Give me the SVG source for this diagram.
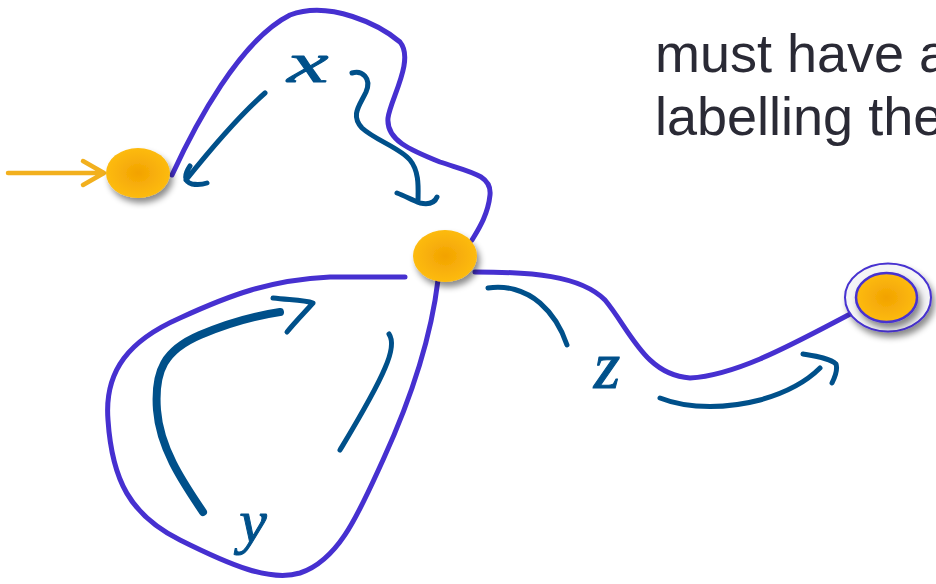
<svg xmlns="http://www.w3.org/2000/svg" width="936" height="584" viewBox="0 0 936 584">
<style>
.loop{fill:none;stroke:#4630D0;stroke-width:5;stroke-linecap:round;stroke-linejoin:round}
.ink{fill:none;stroke:#00508A;stroke-width:5;stroke-linecap:round;stroke-linejoin:round}
.inkb{fill:none;stroke:#00508A;stroke-width:8;stroke-linecap:round;stroke-linejoin:round}
.lbl{font-family:"Liberation Serif","Times New Roman",serif;font-style:italic;fill:#00508A;stroke:#00508A;stroke-width:1;stroke-linejoin:round;text-anchor:middle}
.txt{font-family:"Liberation Sans",Arial,sans-serif;font-size:54px;fill:#2A2A35}
.state{fill:url(#og);filter:url(#sh)}
</style>
<defs>
<radialGradient id="og" cx="50%" cy="50%" r="50%">
<stop offset="0" stop-color="#F2A200"/>
<stop offset="1" stop-color="#FDBB12"/>
</radialGradient>
<filter id="sh" x="-30%" y="-30%" width="170%" height="170%">
<feDropShadow dx="3" dy="5" stdDeviation="3" flood-color="#000" flood-opacity="0.45"/>
</filter>
</defs>
<g id="text">
<text class="txt" x="655" y="72">must have a</text>
<text class="txt" x="655" y="135">labelling the</text>
</g>
<g id="connectors">
<path class="loop" d="M172,175 C195,125 240,40 290,15 C330,0 380,25 400,42 C415,60 390,100 388,118 C386,140 410,150 440,162 C470,172 492,175 490,195 C488,215 478,230 472,240"/>
<path class="loop" d="M438,280 C432,330 415,390 383,460 C360,510 340,560 300,573 C270,582 230,565 180,540 C130,515 112,480 108,420 C104,370 130,340 180,318 C230,295 270,280 330,277 L405,277"/>
<path class="loop" d="M475,272 C530,272 580,275 605,300 C630,330 645,375 690,378 C740,375 800,340 856,311"/>
<path fill="none" stroke="#F2B01E" stroke-width="4.5" stroke-linecap="round" stroke-linejoin="round" d="M8,173 L103,173 M83,161 L104,173 L83,185"/>
</g>
<g id="annotations">
<path class="ink" d="M265,93 C240,115 210,150 186,180 M190,166 C184,175 184,182 192,184 C198,185 204,184 207,183"/>
<path class="ink" d="M352,73 C362,70 372,78 366,92 C360,105 350,115 362,128 C375,140 400,148 410,160 C420,172 418,190 418,202 M397,193 C405,196 412,200 420,203 C430,205 435,202 437,197"/>
<path class="inkb" d="M203,512 C185,485 160,450 157,410 C154,370 165,350 200,335 C235,320 260,315 280,312"/>
<path class="ink" d="M273,298 C290,300 305,300 313,303 C305,312 295,322 287,332"/>
<path class="ink" d="M389,334 C393,340 392,352 385,368 C375,392 355,425 340,450"/>
<path class="ink" d="M488,288 C505,285 525,290 540,303 C555,316 562,330 567,345"/>
<path class="ink" d="M660,398 C690,410 730,408 760,400 C785,393 805,383 820,368 M803,354 C815,356 830,358 836,364 C838,370 835,377 832,383"/>
<text class="lbl" transform="translate(308,82) scale(1.5,0.92)" font-size="62">x</text>
<text class="lbl" x="253" y="542" font-size="62">y</text>
<text class="lbl" x="607" y="388" font-size="68">z</text>
</g>
<g id="start">
<ellipse class="state" cx="138" cy="173" rx="32" ry="25"/>
</g>
<g id="middle">
<ellipse class="state" cx="445" cy="256" rx="32" ry="26"/>
</g>
<g id="final">
<ellipse cx="888" cy="297.5" rx="43" ry="34" fill="#F4F4F6" stroke="#4630D0" stroke-width="2" filter="url(#sh)"/>
<ellipse cx="886.5" cy="297.5" rx="30.5" ry="24.5" fill="url(#og)" stroke="#4630D0" stroke-width="2.5" filter="url(#sh)"/>
</g>
</svg>
